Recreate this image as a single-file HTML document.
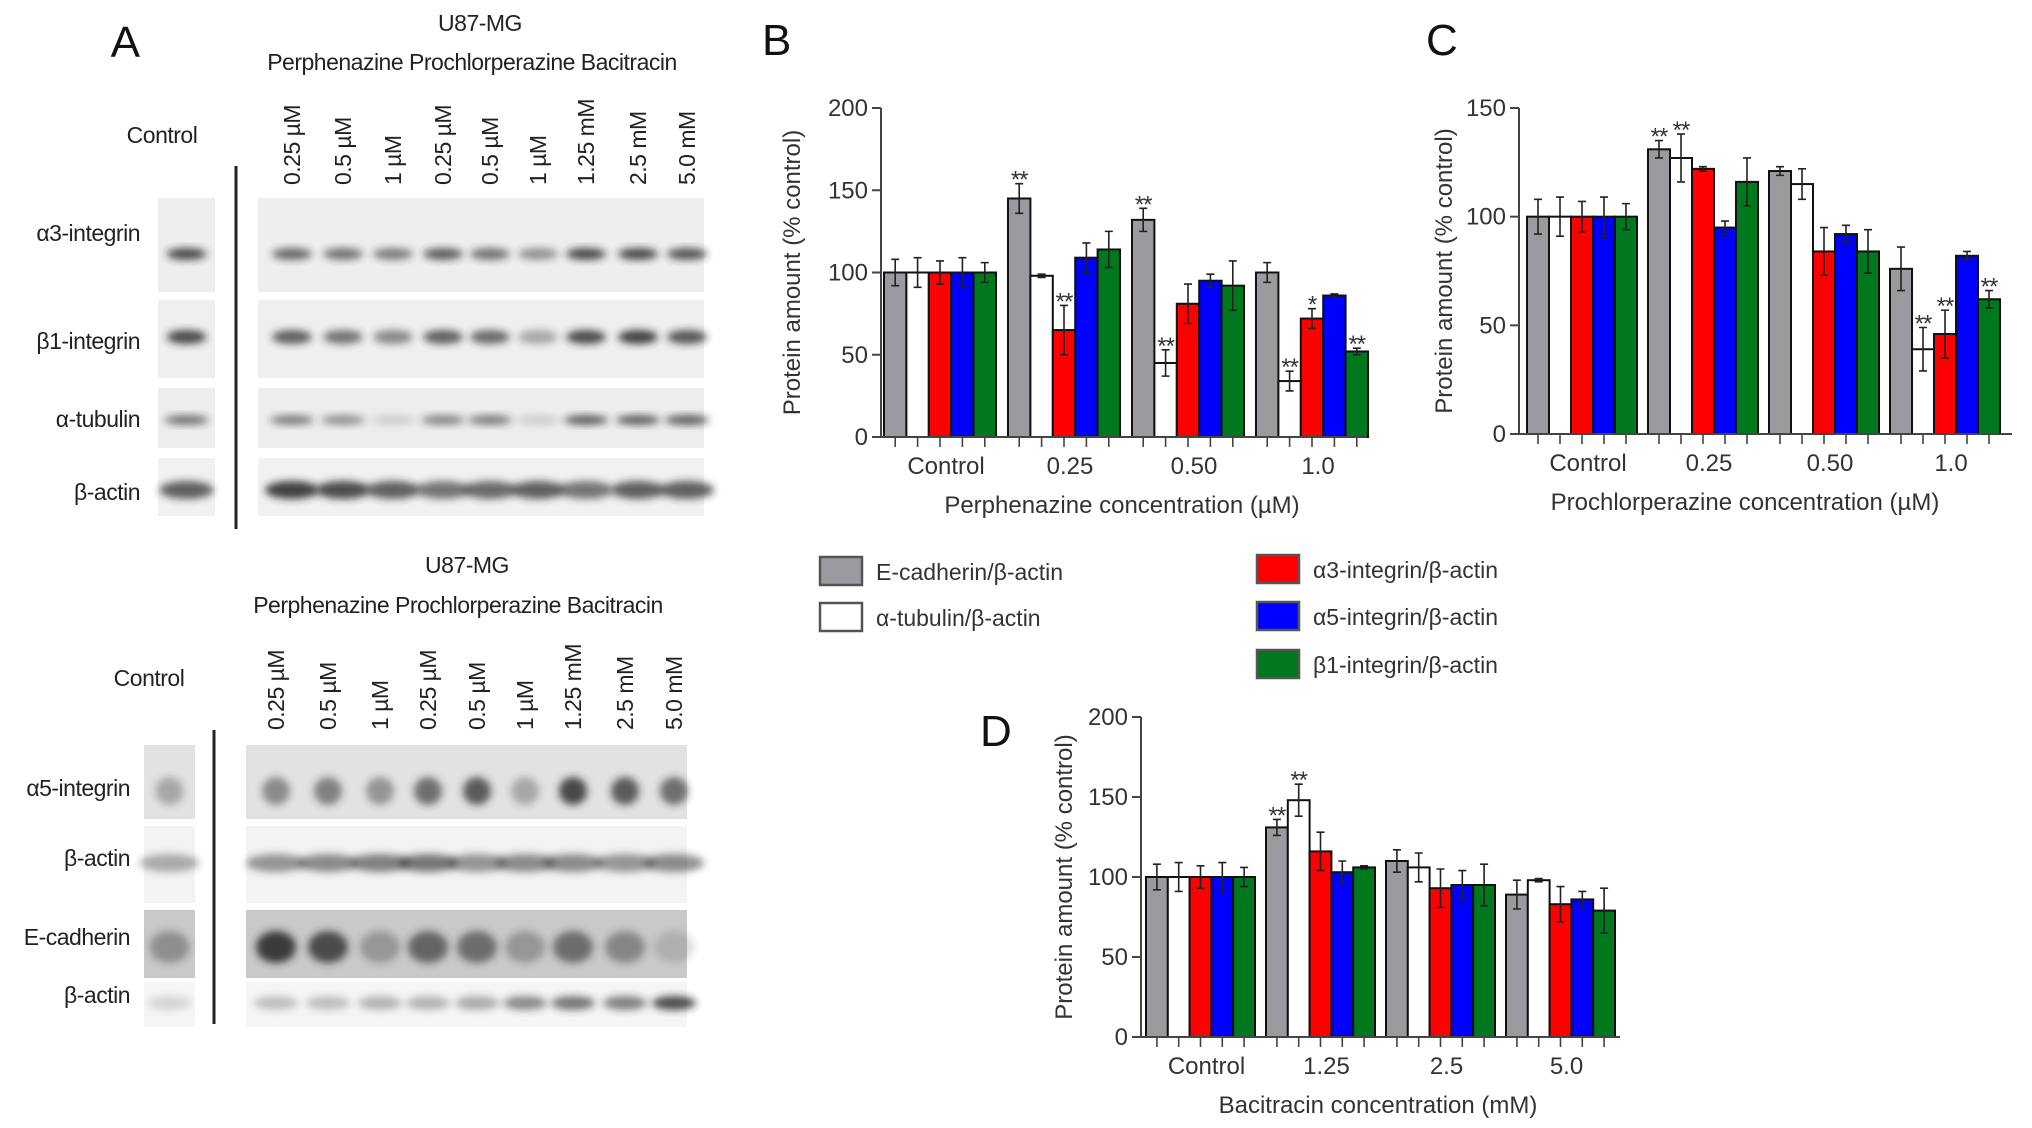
<!DOCTYPE html>
<html><head><meta charset="utf-8">
<style>
html,body{margin:0;padding:0;background:#fff;}
svg{display:block;font-family:"Liberation Sans",Arial,sans-serif;}
</style></head>
<body>
<svg id="fig" width="2032" height="1128" viewBox="0 0 2032 1128" xmlns="http://www.w3.org/2000/svg">
<defs>
<filter id="blur" x="-50%" y="-50%" width="200%" height="200%"><feGaussianBlur stdDeviation="4"/></filter>
</defs>
<g id="panelA"></g>
<g id="chartB"></g>
<g id="chartC"></g>
<g id="chartD"></g>
<g id="legend"></g>
</svg>
<script>
// ---- data ----
const seriesNames = ["E-cadherin/β-actin","α-tubulin/β-actin","α3-integrin/β-actin","α5-integrin/β-actin","β1-integrin/β-actin"];
const seriesColors = ["#9b9b9f","#ffffff","#ff0000","#0000ff","#00781e"];

const bCategories = ["Control","0.25","0.50","1.0"];
const bEcad = [100,145,132,100];
const bTub = [100,98,45,34];
const bA3 = [100,65,81,72];
const bA5 = [100,109,95,86];
const bB1 = [100,114,92,52];
const bErr = [[8,9,7,6],[9,1,8,6],[7,15,12,6],[9,9,4,1],[6,11,15,2]];
const bStars = [["","**","**",""],["","","**","**"],["","**","","*"],["","","",""],["","","","**"]];
const bTicks = [0,50,100,150,200];

const cCategories = ["Control","0.25","0.50","1.0"];
const cEcad = [100,131,121,76];
const cTub = [100,127,115,39];
const cA3 = [100,122,84,46];
const cA5 = [100,95,92,82];
const cB1 = [100,116,84,62];
const cErr = [[8,4,2,10],[9,11,7,10],[7,1,11,11],[9,3,4,2],[6,11,10,4]];
const cStars = [["","**","",""],["","**","","**"],["","","","**"],["","","",""],["","","","**"]];
const cTicks = [0,50,100,150];

const dCategories = ["Control","1.25","2.5","5.0"];
const dEcad = [100,131,110,89];
const dTub = [100,148,106,98];
const dA3 = [100,116,93,83];
const dA5 = [100,103,95,86];
const dB1 = [100,106,95,79];
const dErr = [[8,5,7,9],[9,10,9,1],[7,12,12,11],[9,7,9,5],[6,1,13,14]];
const dStars = [["","**","",""],["","**","",""],["","","",""],["","","",""],["","","",""]];
const dTicks = [0,50,100,150,200];

const NS = "http://www.w3.org/2000/svg";
function mk(parent, tag, attrs, text){
  const e = document.createElementNS(NS, tag);
  for (const k in attrs) e.setAttribute(k, attrs[k]);
  if (text !== undefined) e.textContent = text;
  parent.appendChild(e);
  return e;
}

function drawChart(g, cfg){
  const yScale = v => cfg.y0 - (v / cfg.ymax) * (cfg.y0 - cfg.yTop);
  const xBar = (gi, si) => cfg.x0 + gi * cfg.pitch + si * cfg.bw;
  cfg.series.forEach((vals, si) => {
    vals.forEach((v, gi) => {
      const x = xBar(gi, si), y = yScale(v);
      const r = mk(g, "rect", {x:x, y:y, width:cfg.bw, height:cfg.y0 - y, fill:seriesColors[si], stroke:"#111", "stroke-width":2});
      
      
      const e = cfg.err[si][gi], cx = x + cfg.bw/2;
      const eb = mk(g, "path", {d:`M${cx} ${yScale(v+e)}V${yScale(v-e)}M${cx-4} ${yScale(v+e)}H${cx+4}M${cx-4} ${yScale(v-e)}H${cx+4}`, stroke:"#222", "stroke-width":1.6, fill:"none"});
      
      
      const s = cfg.stars[si][gi];
      if (s) {
        const t = mk(g, "text", {x:cx, y:yScale(v+e)+4, "font-size":24, "text-anchor":"middle", fill:"#333", "letter-spacing":"-1"}, s);
        
        
      }
      const tk = mk(g, "line", {x1:cx, x2:cx, y1:cfg.y0, y2:cfg.y0+10, stroke:"#444", "stroke-width":1.6});
      
      
    });
  });
  const ax = mk(g, "path", {d:`M${cfg.axX} ${cfg.yTop}V${cfg.y0}H${cfg.xEnd}`, stroke:"#444", "stroke-width":2, fill:"none"});
  
  
  cfg.ticks.forEach(t => {
    const y = yScale(t);
    const l = mk(g, "line", {x1:cfg.axX-9, x2:cfg.axX, y1:y, y2:y, stroke:"#444", "stroke-width":2});
    
    
    const tx = mk(g, "text", {x:cfg.axX-13, y:y+8, "font-size":24, "text-anchor":"end", fill:"#333"}, String(t));
    
    
  });
  cfg.cats.forEach((c, gi) => {
    const cx = cfg.x0 + gi*cfg.pitch + cfg.bw*2.5 + (cfg.labOff||0);
    const tx = mk(g, "text", {x:cx, y:cfg.y0+37, "font-size":24, "text-anchor":"middle", fill:"#333"}, c);
    
    
  });
  const xt = mk(g, "text", {x:cfg.xTitleX, y:cfg.y0+76, "font-size":24, "text-anchor":"middle", fill:"#333"}, cfg.xTitle);
  
  
  const ym = (cfg.y0 + cfg.yTop)/2;
  const yt = mk(g, "text", {x:cfg.yTitleX, y:ym, "font-size":24, "text-anchor":"middle", fill:"#333", transform:`rotate(-90 ${cfg.yTitleX} ${ym})`}, "Protein amount (% control)");
  
  
  const pl = mk(g, "text", {x:cfg.letterX, y:cfg.letterY, "font-size":44, fill:"#111"}, cfg.letter);
  
  
}

drawChart(document.getElementById("chartB"), {id:"b", series:[bEcad,bTub,bA3,bA5,bB1], err:bErr, stars:bStars, cats:bCategories, ticks:bTicks,
  ymax:200, y0:437, yTop:108, axX:881, xEnd:1367, x0:884, bw:22.4, pitch:124, labOff:6,
  xTitle:"Perphenazine concentration (µM)", xTitleX:1122, yTitleX:800, letter:"B", letterX:762, letterY:55});
drawChart(document.getElementById("chartC"), {id:"c", series:[cEcad,cTub,cA3,cA5,cB1], err:cErr, stars:cStars, cats:cCategories, ticks:cTicks,
  ymax:150, y0:434, yTop:108, axX:1519, xEnd:2012, x0:1527, bw:22, pitch:121, labOff:6,
  xTitle:"Prochlorperazine concentration (µM)", xTitleX:1745, yTitleX:1452, letter:"C", letterX:1426, letterY:55});
drawChart(document.getElementById("chartD"), {id:"d", series:[dEcad,dTub,dA3,dA5,dB1], err:dErr, stars:dStars, cats:dCategories, ticks:dTicks,
  ymax:200, y0:1037, yTop:717, axX:1141, xEnd:1620, x0:1146, bw:21.8, pitch:120, labOff:6,
  xTitle:"Bacitracin concentration (mM)", xTitleX:1378, yTitleX:1072, letter:"D", letterX:980, letterY:746});

const legendPos = [[820,557],[820,603],[1257,555],[1257,602],[1257,650]];
const lg = document.getElementById("legend");
seriesNames.forEach((n, i) => {
  const [x, y] = legendPos[i];
  const r = mk(lg, "rect", {x:x, y:y, width:42, height:28, fill:seriesColors[i], stroke:"#555", "stroke-width":2.5});
  
  
  const t = mk(lg, "text", {x:x+56, y:y+23, "font-size":23, fill:"#333"}, n);
  
  
});

const laneLabels = ["0.25 µM","0.5 µM","1 µM","0.25 µM","0.5 µM","1 µM","1.25 mM","2.5 mM","5.0 mM"];
const topIntensity = [[0.8,0.65,0.6,0.55,0.7,0.6,0.45,0.8,0.8,0.75],[0.8,0.7,0.6,0.5,0.7,0.65,0.35,0.8,0.85,0.75],[0.6,0.55,0.45,0.15,0.5,0.55,0.15,0.7,0.7,0.7],[0.7,0.85,0.8,0.7,0.6,0.65,0.7,0.6,0.7,0.7]];
const botIntensity = [[0.3,0.45,0.5,0.4,0.6,0.7,0.3,0.8,0.7,0.6],[0.35,0.45,0.5,0.55,0.6,0.45,0.5,0.5,0.45,0.5],[0.35,0.85,0.75,0.3,0.6,0.55,0.3,0.55,0.4,0.15],[0.15,0.25,0.25,0.3,0.3,0.35,0.5,0.6,0.55,0.8]];
const A = document.getElementById("panelA");
function txt(x,y,s,size,anchor,name,extra){
  const t = mk(A, "text", Object.assign({x:x,y:y,"font-size":size,"text-anchor":anchor,fill:"#222","letter-spacing":"-0.5"}, extra||{}), s);
  
  
  return t;
}
function blot(cfg){
  txt(cfg.cellX, cfg.cellY, "U87-MG", 23, "middle", "cell-line-title");
  txt(cfg.drugX, cfg.drugY, "Perphenazine Prochlorperazine  Bacitracin", 23, "middle", "drug-header");
  txt(cfg.ctrlX, cfg.ctrlY, "Control", 23, "middle", "control-label");
  cfg.lanes.forEach((lx, i) => {
    txt(lx+8, cfg.laneBottom, laneLabels[i], 23, "start", "lane-label", {transform:`rotate(-90 ${lx+8} ${cfg.laneBottom})`});
  });
  const vl = mk(A, "line", {x1:cfg.vx, x2:cfg.vx, y1:cfg.vy1, y2:cfg.vy2, stroke:"#222", "stroke-width":3});
  
  
  cfg.rows.forEach((r, ri) => {
    const bg = r.bg;
    const s1 = mk(A, "rect", {x:cfg.cL[0], y:r.y1, width:cfg.cL[1]-cfg.cL[0], height:r.y2-r.y1, fill:bg});
    
    
    const s2 = mk(A, "rect", {x:cfg.rL[0], y:r.y1, width:cfg.rL[1]-cfg.rL[0], height:r.y2-r.y1, fill:bg});
    
    
    const by = r.by;
    const xs = [(cfg.cL[0]+cfg.cL[1])/2].concat(cfg.lanes);
    xs.forEach((x, li) => {
      const o = cfg.intens[ri][li];
      const b = mk(A, "ellipse", {cx:x, cy:by, rx:r.rx, ry:r.ry, fill:"#222", opacity:o, filter:"url(#blur)"});
      
      
    });
    txt(cfg.labX, r.ly, r.label, 23, "end", "protein-label");
  });
}
blot({cellX:480, cellY:31, drugX:472, drugY:70, ctrlX:162, ctrlY:143,
  lanes:[292,343,393,443,490,538,586,638,687], laneBottom:185,
  vx:236, vy1:166, vy2:529, cL:[158,215], rL:[258,704], labX:140, intens:topIntensity,
  rows:[{y1:198,y2:292,by:254,rx:20,ry:6,bg:"#eeeeee",label:"α3-integrin",ly:241},
        {y1:300,y2:378,by:337,rx:20,ry:7,bg:"#efefef",label:"β1-integrin",ly:349},
        {y1:388,y2:448,by:420,rx:22,ry:5,bg:"#ededed",label:"α-tubulin",ly:427},
        {y1:458,y2:516,by:490,rx:27,ry:9,bg:"#f1f1f1",label:"β-actin",ly:500}]});
blot({cellX:467, cellY:573, drugX:458, drugY:613, ctrlX:149, ctrlY:686,
  lanes:[276,328,380,428,477,525,573,625,674], laneBottom:730,
  vx:214, vy1:730, vy2:1024, cL:[144,195], rL:[246,687], labX:130, intens:botIntensity,
  rows:[{y1:745,y2:819,by:791,rx:14,ry:14,bg:"#e2e2e2",label:"α5-integrin",ly:796},
        {y1:826,y2:903,by:863,rx:30,ry:9,bg:"#f3f3f3",label:"β-actin",ly:866},
        {y1:910,y2:978,by:947,rx:20,ry:16,bg:"#c9c9c9",label:"E-cadherin",ly:945},
        {y1:982,y2:1027,by:1003,rx:22,ry:7,bg:"#f5f5f5",label:"β-actin",ly:1003}]});
txt(125, 57, "A", 44, "middle", "panel-letter", {fill:"#111"});
</script>
</body></html>
